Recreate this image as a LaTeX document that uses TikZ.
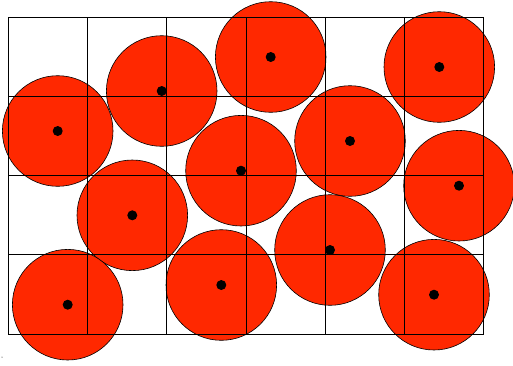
\documentclass[tikz,border=0pt]{standalone}
\usepackage{xcolor}
\usepackage{tikz}
\definecolor{discred}{RGB}{255,40,0}

\begin{document}
\begin{tikzpicture}[x=1pt, y=-1pt,
  disc/.style={circle, draw=black, line width=0.6pt, fill=discred, minimum size=110.6pt, inner sep=0pt},
  ctr/.style={circle, fill=black, minimum size=10pt, inner sep=0pt},
  gridline/.style={line width=1pt, black}]
\useasboundingbox (0,0) rectangle (513,365);
% discs
\foreach \x/\y [count=\i] in {57.7/131, 161.7/91, 270.7/57, 439.3/67, 350/141, 241/170.7,
    459/185.7, 132.3/215.3, 330/250, 67.7/304.7, 221.3/285, 434/294.7}
  \node[disc] (d\i) at (\x,\y) {};
% cells
\begin{scope}[shift={(8.3,334)}, x=79.25pt, y=79.25pt]
  \draw[gridline, step=1] (0,0) grid (6,4);
\end{scope}
% centres
\foreach \i in {1,...,12}
  \node[ctr] (m\i) at (d\i.center) {};
\node[circle, fill=black, minimum size=1pt, inner sep=0pt] (spot) at (2,357) {};
\end{tikzpicture}
\end{document}
